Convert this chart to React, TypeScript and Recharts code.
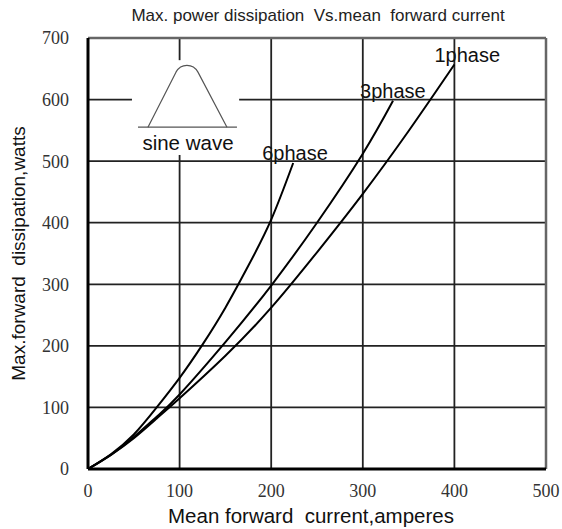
import React from 'react'
import { LineChart, Line, XAxis, YAxis, CartesianGrid, ReferenceArea, ReferenceLine } from 'recharts'

// Mean forward current (A) vs max. forward dissipation (W), read per curve
const sixPhaseAmps = [0, 25, 50, 75, 100, 125, 150, 175, 200, 224]
const sixPhaseWatts = [0, 24, 56, 100, 148, 202, 262, 330, 405, 497]

const threePhaseAmps = [0, 25, 50, 75, 100, 150, 200, 250, 300, 333]
const threePhaseWatts = [0, 23, 52, 85, 121, 206, 298, 400, 512, 598]

const onePhaseAmps = [0, 25, 50, 75, 100, 150, 200, 250, 300, 350, 400]
const onePhaseWatts = [0, 23, 50, 82, 115, 184, 262, 352, 447, 549, 657]

const xTicks = [0, 100, 200, 300, 400, 500]
const yTicks = [0, 100, 200, 300, 400, 500, 600, 700]

const toRows = (amps: number[], watts: number[]) => amps.map((a, i) => ({ amps: a, watts: watts[i] }))

const sixPhase = toRows(sixPhaseAmps, sixPhaseWatts)
const threePhase = toRows(threePhaseAmps, threePhaseWatts)
const onePhase = toRows(onePhaseAmps, onePhaseWatts)

const sans = 'Liberation Sans, Arial, sans-serif'
const serif = 'Liberation Serif, Times New Roman, serif'

// name tag drawn just above-left of the curve's end point
const endLabel = (text: string, count: number, dx: number, dy: number) => (props: any) => {
  if (props.index !== count - 1) return null
  return (
    <text x={props.x + dx} y={props.y + dy} fontFamily={sans} fontSize={20} fill="#111">
      {text}
    </text>
  )
}

// white inset box with the sine half-wave glyph
const SineInset = (props: any) => {
  const { x, y, width, height } = props
  const p = `M${x + 16},${y + 67} L${x + 44},${y + 12} C${x + 49},${y + 3} ${x + 61},${y + 3} ${x + 66},${y + 12} L${x + 95},${y + 67}`
  return (
    <g>
      <rect x={x} y={y} width={width} height={height} fill="#fff" />
      <line x1={x + 6} y1={y + 67} x2={x + 105} y2={y + 67} stroke="#555" strokeWidth={1.2} />
      <path d={p} fill="none" stroke="#555" strokeWidth={1.2} />
      <text x={x + 56} y={y + 90} textAnchor="middle" fontFamily={sans} fontSize={20.5} fill="#111">
        sine wave
      </text>
    </g>
  )
}

export default function App() {
  return (
    <div style={{ position: 'absolute', left: 0, top: 0, width: 562, height: 529, background: '#fff' }}>
      <div
        style={{
          position: 'absolute',
          left: 0,
          width: 636,
          top: 6,
          textAlign: 'center',
          fontFamily: sans,
          fontSize: 17,
          color: '#222',
          whiteSpace: 'pre',
        }}
      >
        {'Max. power dissipation  Vs.mean  forward current'}
      </div>
      <LineChart width={562} height={529} margin={{ top: 38, right: 16, bottom: 0, left: 0 }}>
        <CartesianGrid stroke="#222" strokeWidth={1.8} vertical horizontal />
        <XAxis
          type="number"
          dataKey="amps"
          domain={[0, 500]}
          ticks={xTicks}
          height={60}
          tickLine={false}
          tickSize={0}
          tickMargin={15}
          axisLine={{ stroke: '#000', strokeWidth: 3 }}
          tick={{ fontFamily: serif, fontSize: 18, fill: '#333' }}
          allowDataOverflow
          label={{
            content: ({ viewBox }: any) => (
              <text
                x={viewBox.x + 223}
                y={viewBox.y + 54}
                textAnchor="middle"
                fontFamily={sans}
                fontSize={20.5}
                fill="#111"
                style={{ whiteSpace: 'pre' }}
              >
                {'Mean forward  current,amperes'}
              </text>
            ),
          }}
        />
        <YAxis
          type="number"
          dataKey="watts"
          domain={[0, 700]}
          ticks={yTicks}
          width={88}
          tickLine={false}
          tickSize={0}
          tickMargin={19}
          axisLine={{ stroke: '#000', strokeWidth: 3 }}
          tick={{ fontFamily: serif, fontSize: 18, fill: '#333' }}
          allowDataOverflow
          label={{
            content: ({ viewBox }: any) => {
              const cx = 18
              const cy = viewBox.y + viewBox.height / 2
              return (
                <text
                  x={cx}
                  y={cy}
                  textAnchor="middle"
                  dominantBaseline="central"
                  transform={`rotate(-90, ${cx}, ${cy})`}
                  fontFamily={sans}
                  fontSize={19}
                  fill="#111"
                  style={{ whiteSpace: 'pre' }}
                >
                  {'Max.forward  dissipation,watts'}
                </text>
              )
            },
          }}
        />
        <ReferenceLine y={700} stroke="#666" strokeWidth={2.5} />
        <ReferenceLine x={500} stroke="#666" strokeWidth={2.5} />
        <ReferenceArea x1={48} x2={165} y1={510} y2={664} ifOverflow="visible" shape={<SineInset />} />
        <Line
          data={sixPhase}
          dataKey="watts"
          type="natural"
          stroke="#000"
          strokeWidth={2}
          dot={false}
          isAnimationActive={false}
          label={endLabel('6phase', sixPhase.length, -31, -3)}
        />
        <Line
          data={threePhase}
          dataKey="watts"
          type="natural"
          stroke="#000"
          strokeWidth={2}
          dot={false}
          isAnimationActive={false}
          label={endLabel('3phase', threePhase.length, -33, -3)}
        />
        <Line
          data={onePhase}
          dataKey="watts"
          type="natural"
          stroke="#000"
          strokeWidth={2}
          dot={false}
          isAnimationActive={false}
          label={endLabel('1phase', onePhase.length, -20, -2)}
        />
      </LineChart>
    </div>
  )
}
